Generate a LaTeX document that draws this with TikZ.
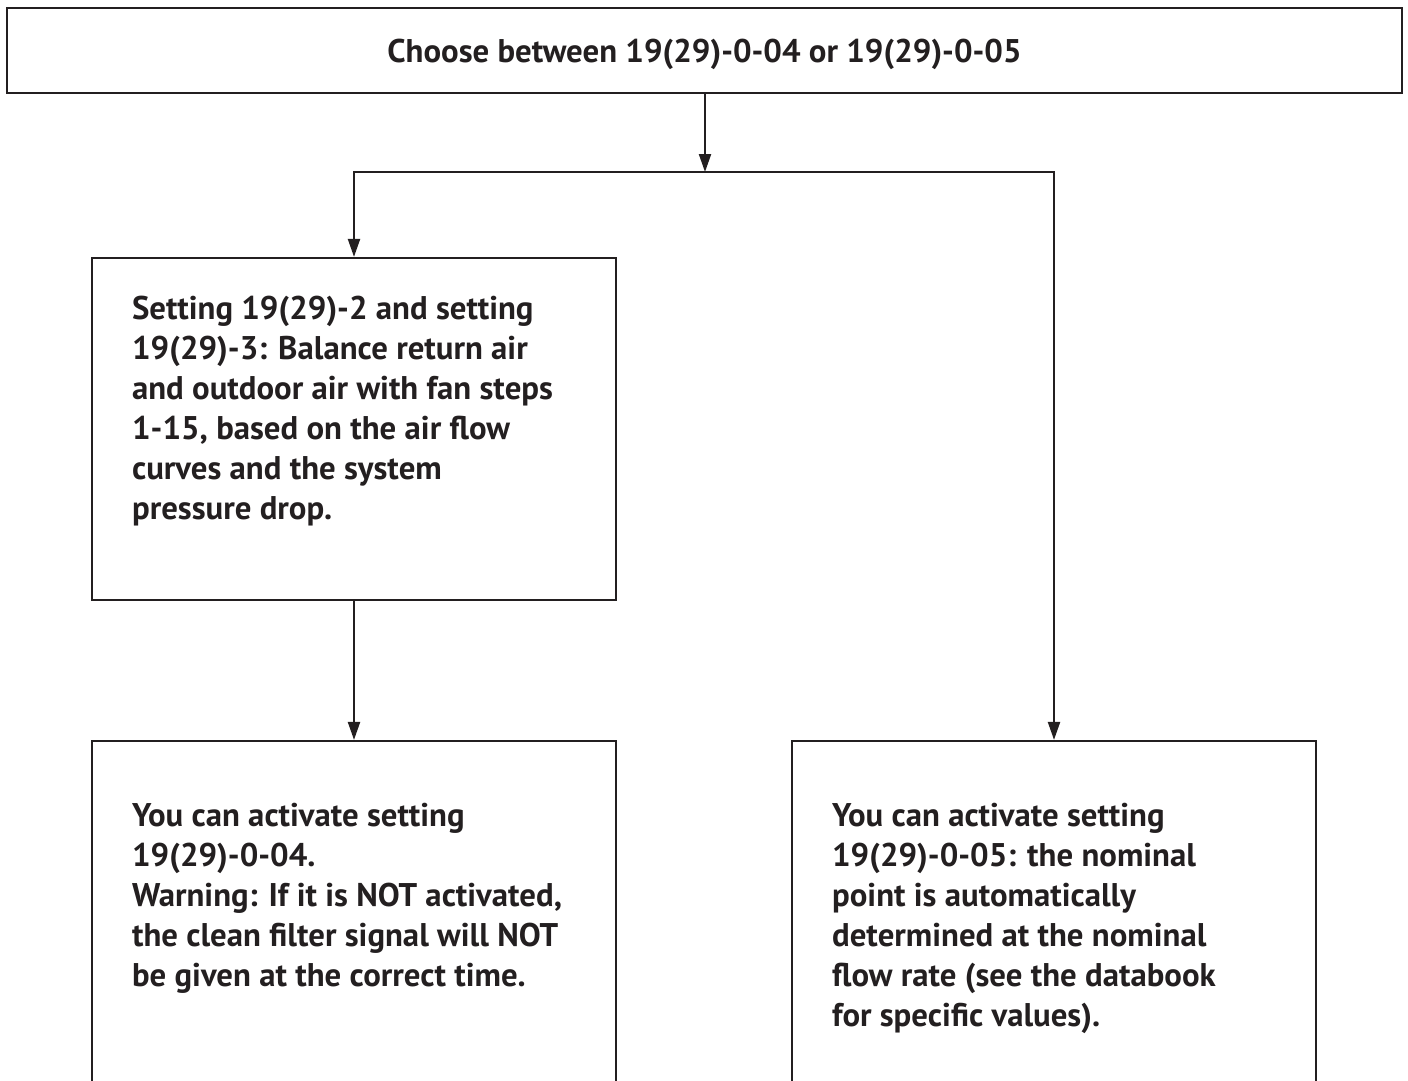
\documentclass[tikz,border=0pt]{standalone}
\usepackage{fontspec}
\setmainfont{PT Sans}
\usetikzlibrary{arrows.meta,positioning}
\definecolor{ink}{HTML}{231F20}
\tikzset{
  stepbox/.style={draw=ink, line width=2.2pt, rectangle, inner sep=0pt},
  txt/.style={text=ink, font=\bfseries\fontsize{32.8}{40}\selectfont, align=left, inner sep=0pt, anchor=north west},
  arr/.style={draw=ink, line width=2.2pt, -{Triangle[length=18pt,width=12pt]}},
}
\begin{document}
\begin{tikzpicture}[x=1pt,y=-1pt]
  \clip (0,0) rectangle (1408,1081);
  \node[stepbox, minimum width=1395pt, minimum height=85pt, text height=32pt, text depth=7pt,
    text=ink, font=\bfseries\fontsize{32.8}{40}\selectfont] (choose) at (704.5,50.5)
    {Choose between 19(29)-0-04 or 19(29)-0-05};
  \node[stepbox, minimum width=524pt, minimum height=342pt] (balance) at (354,429) {};
  \node[stepbox, minimum width=524pt, minimum height=380pt] (act04) at (354,931) {};
  \node[stepbox, minimum width=524pt, minimum height=380pt] (act05) at (1054,931) {};
  \coordinate (split) at (705,172);

  \node[txt] (balance-txt) at ([xshift=41pt,yshift=-39pt]balance.north west)
    {Setting 19(29)-2 and setting\\19(29)-3: Balance return air\\and outdoor air with fan steps\\1-15, based on the air flow\\curves and the system\\pressure drop.};
  \node[txt] (act04-txt) at ([xshift=41pt,yshift=-63pt]act04.north west)
    {You can activate setting\\19(29)-0-04.\\Warning: If it is NOT activated,\\the clean filter signal will NOT\\be given at the correct time.};
  \node[txt] (act05-txt) at ([xshift=41pt,yshift=-63pt]act05.north west)
    {You can activate setting\\19(29)-0-05: the nominal\\point is automatically\\determined at the nominal\\flow rate (see the databook\\for specific values).};

  \draw[arr] (choose.south -| split) -- (split);
  \draw[arr] (split) -| (balance.north);
  \draw[arr] (split) -| (act05.north);
  \draw[arr] (balance) -- (act04);
\end{tikzpicture}
\end{document}
